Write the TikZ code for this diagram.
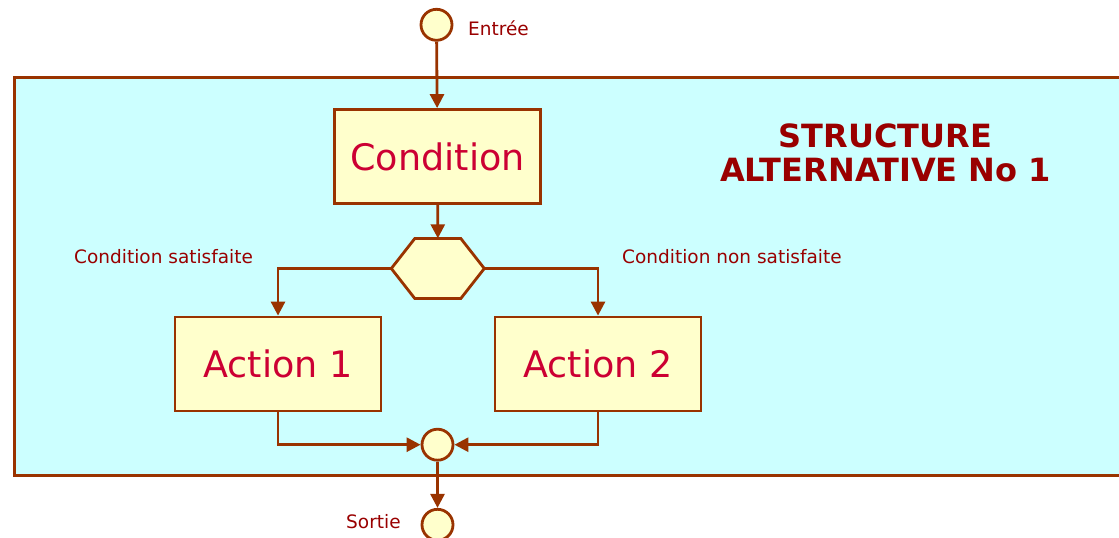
\documentclass[tikz,border=0pt]{standalone}
\usepackage{fontspec}
\setmainfont{DejaVu Sans}
\usepackage{xcolor}
\usepackage{tikz}
\usetikzlibrary{arrows.meta}
\definecolor{brun}{HTML}{993300}
\definecolor{creme}{HTML}{FFFFCC}
\definecolor{ciel}{HTML}{CCFFFF}
\definecolor{bordeaux}{HTML}{990000}
\definecolor{rouge}{HTML}{CC0033}

\begin{document}
\begin{tikzpicture}[x=1pt,y=-1pt,
  boite/.style={draw=brun,fill=creme,line width=2.8pt,minimum width=206pt,minimum height=94pt,text=rouge,font=\fontsize{36.5}{40}\selectfont},
  rond/.style={shape=circle,draw=brun,fill=creme,line width=2.8pt,minimum size=31pt,inner sep=0pt},
  etiq/.style={text=bordeaux,font=\fontsize{18.5}{21}\selectfont,inner sep=0pt},
  fleche/.style={draw=brun,line width=2.8pt,-{Triangle[length=14pt,width=14pt]}}]
\useasboundingbox (0,0) rectangle (1119,538);
\draw[draw=brun,fill=ciel,line width=2.8pt] (14.5,77.5) rectangle (1140,475.5);
\node[rond] (entree) at (436.5,24.8) {};
\node[etiq,anchor=base west] (lentree) at (468,35) {Entrée};
\node[boite] (cond) at (437.5,156.5) {Condition};
\node[minimum width=93pt,minimum height=60pt,inner sep=0pt] (test) at (438,268.5) {};
\draw[draw=brun,fill=creme,line width=2.8pt,line join=miter] (test.west) -- ++(23.5,-30) -- ++(46,0) -- ++(23.5,30) -- ++(-23.5,30) -- ++(-46,0) -- cycle;
\node[etiq,anchor=base west] (loui) at (74,263) {Condition satisfaite};
\node[etiq,anchor=base west] (lnon) at (622,263) {Condition non satisfaite};
\node[boite] (act1) at (278,364) {Action 1};
\node[boite] (act2) at (598,364) {Action 2};
\node[rond] (jonction) at (437.5,444.7) {};
\node[rond] (sortie) at (437.5,524.8) {};
\node[etiq,anchor=base west] (lsortie) at (346,528) {Sortie};
\node[text=bordeaux,font=\bfseries\fontsize{32}{34}\selectfont,align=center] (titre) at (885.5,152.5) {STRUCTURE\\ALTERNATIVE No 1};
\path[fleche] (entree) -- (cond);
\path[fleche] (cond) -- (test);
\path[fleche] (test.west) -| (act1);
\path[fleche] (test.east) -| (act2);
\path[fleche] (act1) |- (jonction);
\path[fleche] (act2) |- (jonction);
\path[fleche] (jonction) -- (sortie);
\end{tikzpicture}
\end{document}
